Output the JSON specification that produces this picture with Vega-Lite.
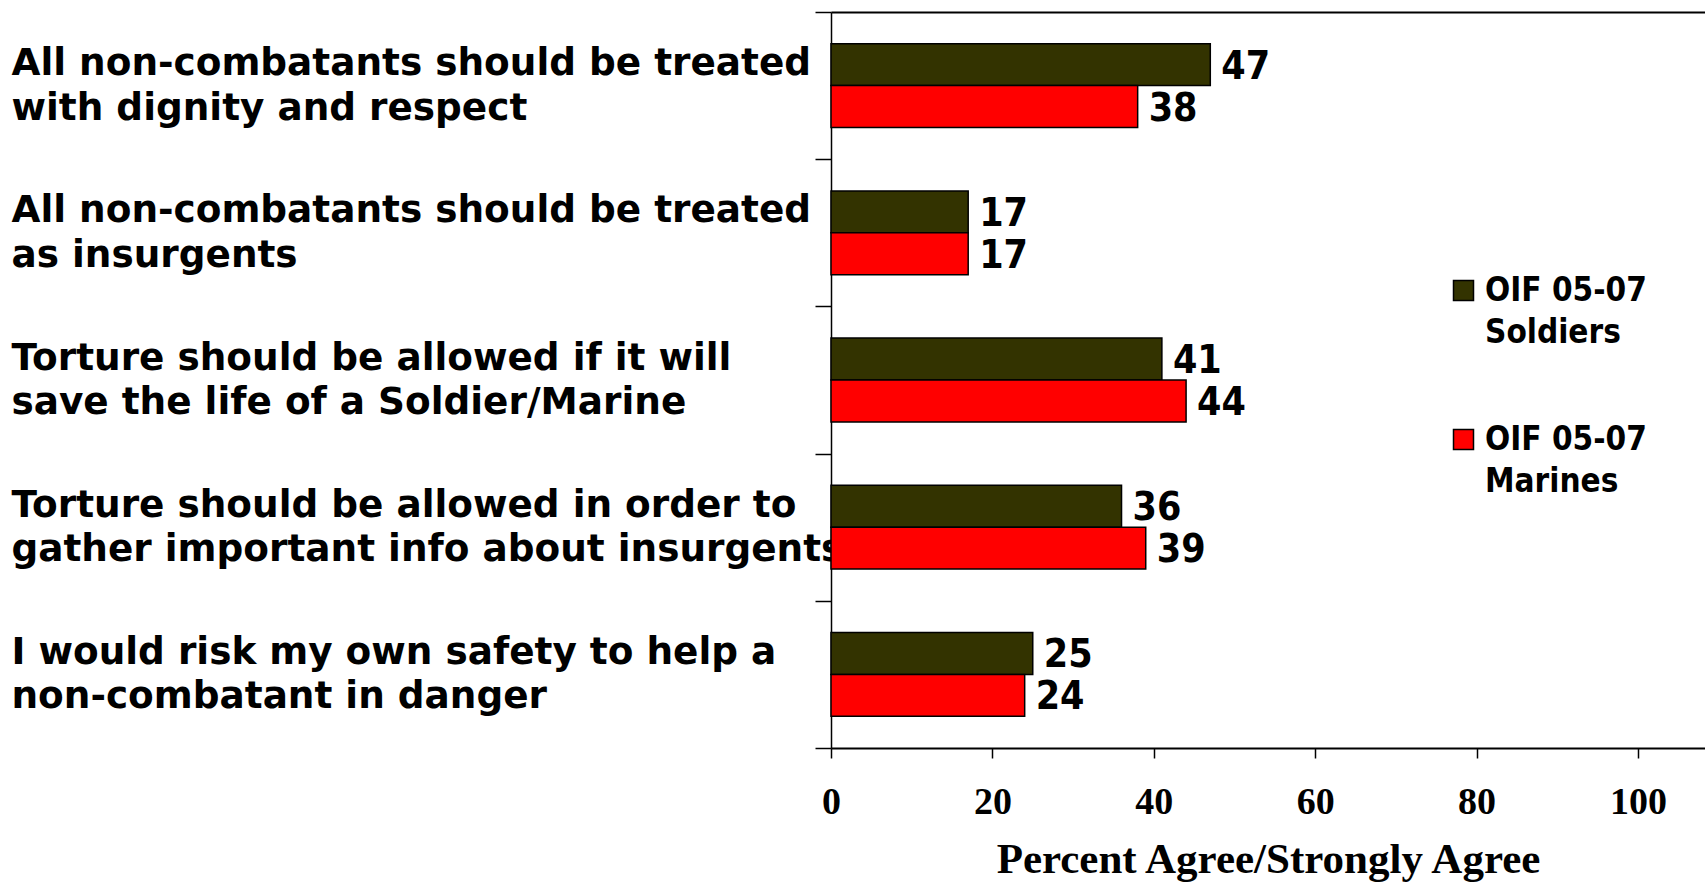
{
  "$schema": "https://vega.github.io/schema/vega-lite/v6.json",
  "width": 874,
  "height": 736,
  "autosize": "none",
  "padding": {"left": 831, "top": 12, "right": 0, "bottom": 134},
  "background": "white",
  "config": {"view": {"stroke": null}},
  "data": {
    "values": [
      {"statement": "All non-combatants should be treated|with dignity and respect", "group": "OIF 05-07 Soldiers", "pct": 47},
      {"statement": "All non-combatants should be treated|with dignity and respect", "group": "OIF 05-07 Marines", "pct": 38},
      {"statement": "All non-combatants should be treated|as insurgents", "group": "OIF 05-07 Soldiers", "pct": 17},
      {"statement": "All non-combatants should be treated|as insurgents", "group": "OIF 05-07 Marines", "pct": 17},
      {"statement": "Torture should be allowed if it will|save the life of a Soldier/Marine", "group": "OIF 05-07 Soldiers", "pct": 41},
      {"statement": "Torture should be allowed if it will|save the life of a Soldier/Marine", "group": "OIF 05-07 Marines", "pct": 44},
      {"statement": "Torture should be allowed in order to|gather important info about insurgents", "group": "OIF 05-07 Soldiers", "pct": 36},
      {"statement": "Torture should be allowed in order to|gather important info about insurgents", "group": "OIF 05-07 Marines", "pct": 39},
      {"statement": "I would risk my own safety to help a|non-combatant in danger", "group": "OIF 05-07 Soldiers", "pct": 25},
      {"statement": "I would risk my own safety to help a|non-combatant in danger", "group": "OIF 05-07 Marines", "pct": 24}
    ]
  },
  "encoding": {
    "y": {
      "field": "statement",
      "type": "nominal",
      "sort": null,
      "scale": {"paddingInner": 0, "paddingOuter": 0},
      "axis": {
        "title": null,
        "grid": false,
        "tickBand": "extent",
        "tickSize": 16,
        "tickColor": "black",
        "tickWidth": 1.5,
        "domainColor": "black",
        "domainWidth": 1.5,
        "labelAlign": "left",
        "labelPadding": 804,
        "labelLimit": 0,
        "labelFont": "DejaVu Sans",
        "labelFontWeight": "bold",
        "labelFontSize": 37.4,
        "labelLineHeight": 44.5,
        "labelBaseline": "line-bottom",
        "labelColor": "black",
        "labelExpr": "split(datum.label, '|')"
      }
    },
    "yOffset": {
      "field": "group",
      "type": "nominal",
      "sort": ["OIF 05-07 Soldiers", "OIF 05-07 Marines"],
      "scale": {"paddingOuter": 0.757, "paddingInner": 0}
    }
  },
  "resolve": {"axis": {"x": "independent"}},
  "layer": [
    {
      "mark": {"type": "bar", "stroke": "black", "strokeWidth": 1.5},
      "encoding": {
        "x": {
          "field": "pct",
          "type": "quantitative",
          "scale": {"domain": [0, 108.3], "nice": false, "zero": true},
          "axis": {
            "values": [0, 20, 40, 60, 80, 100],
            "grid": false,
            "tickSize": 10,
            "tickColor": "black",
            "tickWidth": 1.5,
            "domainColor": "black",
            "domainWidth": 2,
            "labelFont": "Liberation Serif",
            "labelFontWeight": "bold",
            "labelFontSize": 38,
            "labelColor": "black",
            "labelPadding": 25,
            "labelFlush": false,
            "title": "Percent Agree/Strongly Agree",
            "titleFont": "Liberation Serif",
            "titleFontWeight": "bold",
            "titleFontSize": 43,
            "titleColor": "black",
            "titlePadding": 17
          }
        },
        "color": {
          "field": "group",
          "type": "nominal",
          "scale": {"domain": ["OIF 05-07 Soldiers", "OIF 05-07 Marines"], "range": ["#333300", "#FF0000"]},
          "legend": {
            "orient": "none",
            "legendX": 616,
            "legendY": 262,
            "title": null,
            "padding": 0,
            "symbolType": "square",
            "symbolSize": 400,
            "symbolStrokeColor": "black",
            "symbolStrokeWidth": 1.5,
            "labelExpr": "['OIF 05-07', slice(datum.label, 10)]",
            "labelFont": "DejaVu Sans Condensed, DejaVu Sans",
            "labelFontWeight": "bold",
            "labelFontSize": 33,
            "labelBaseline": "middle",
            "labelColor": "black",
            "labelOffset": 5,
            "labelLimit": 0,
            "rowPadding": 73,
            "encode": {"labels": {"update": {"lineHeight": {"value": 42}}}}
          }
        }
      }
    },
    {
      "mark": {"type": "text", "align": "left", "baseline": "middle", "dx": 11, "dy": 2, "font": "DejaVu Sans Condensed, DejaVu Sans", "fontWeight": "bold", "fontSize": 39, "color": "black"},
      "encoding": {
        "x": {
          "field": "pct",
          "type": "quantitative",
          "scale": {"domain": [0, 108.3], "nice": false, "zero": true},
          "axis": {"orient": "top", "labels": false, "ticks": false, "title": null, "grid": false, "domainColor": "black", "domainWidth": 2}
        },
        "text": {"field": "pct", "type": "quantitative"}
      }
    }
  ]
}
